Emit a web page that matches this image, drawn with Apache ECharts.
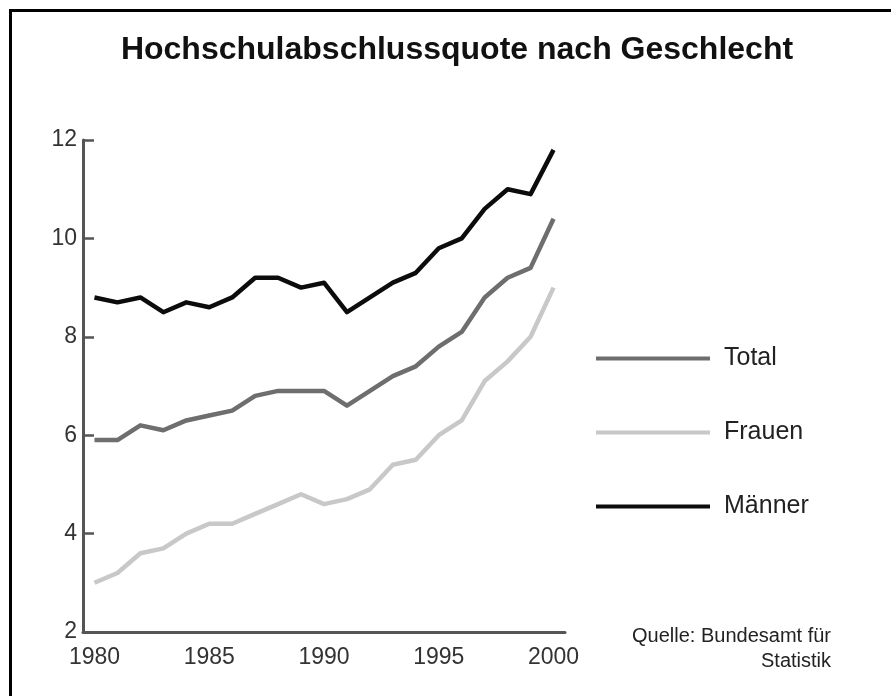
<!DOCTYPE html>
<html>
<head>
<meta charset="utf-8">
<title>Hochschulabschlussquote nach Geschlecht</title>
<script src="https://cdn.jsdelivr.net/npm/echarts@6/dist/echarts.min.js"></script>
<style>
	html, body { margin: 0; padding: 0; background: #fff; }
	#main { width: 891px; height: 696px; }
</style>
</head>
<body>
<div id="main"></div>
<script>
// Jahre (Kategorien)
var years = ['1980','1981','1982','1983','1984','1985','1986','1987','1988','1989','1990',
	'1991','1992','1993','1994','1995','1996','1997','1998','1999','2000'];
// Quoten in %
var total  = [5.9, 5.9, 6.2, 6.1, 6.3, 6.4, 6.5, 6.8, 6.9, 6.9, 6.9, 6.6, 6.9, 7.2, 7.4, 7.8, 8.1, 8.8, 9.2, 9.4, 10.4];
var frauen = [3.0, 3.2, 3.6, 3.7, 4.0, 4.2, 4.2, 4.4, 4.6, 4.8, 4.6, 4.7, 4.9, 5.4, 5.5, 6.0, 6.3, 7.1, 7.5, 8.0, 9.0];
var maenner = [8.8, 8.7, 8.8, 8.5, 8.7, 8.6, 8.8, 9.2, 9.2, 9.0, 9.1, 8.5, 8.8, 9.1, 9.3, 9.8, 10.0, 10.6, 11.0, 10.9, 11.8];
var seriesNames = ['Total', 'Frauen', 'Männer'];
var yTicks = { min: 2, max: 12, step: 2 };

var font = '"Liberation Sans", Arial, Helvetica, sans-serif';
var axisColor = '#555';

var chart = echarts.init(document.getElementById('main'), null, { renderer: 'canvas' });

function lineSeries(name, data, color){
	return {
		name: name,
		type: 'line',
		data: data,
		symbol: 'none',
		smooth: false,
		lineStyle: { color: color, width: 4.5, join: 'round' },
		itemStyle: { color: color }
	};
}

chart.setOption({
	backgroundColor: '#fff',
	animation: false,
	textStyle: { fontFamily: font },
	title: {
		text: 'Hochschulabschlussquote nach Geschlecht',
		left: 452,
		textAlign: 'center',
		top: 29,
		textStyle: { fontFamily: font, fontSize: 32, fontWeight: 'bold', color: '#111' }
	},
	legend: {
		orient: 'vertical',
		left: 591,
		top: 341,
		itemWidth: 114,
		itemHeight: 4,
		itemGap: 49,
		icon: 'rect',
		data: seriesNames,
		textStyle: { fontFamily: font, fontSize: 25, color: '#222', padding: [0, 0, 0, 9] }
	},
	grid: { left: 83, right: 326, top: 140, bottom: 64, containLabel: false },
	xAxis: {
		type: 'category',
		data: years,
		boundaryGap: true,
		axisLine: { lineStyle: { color: axisColor, width: 3 } },
		axisTick: { inside: true, length: 11, interval: 0, lineStyle: { color: axisColor, width: 2.5 } },
		axisLabel: { interval: 4, margin: 14, fontSize: 23, color: '#333', fontFamily: font },
		splitLine: { show: false }
	},
	yAxis: {
		type: 'value',
		min: yTicks.min,
		max: yTicks.max,
		interval: yTicks.step,
		axisLine: { show: true, lineStyle: { color: axisColor, width: 3 } },
		axisTick: { show: true, inside: true, length: 11, lineStyle: { color: axisColor, width: 2.5 } },
		axisLabel: { margin: 6, fontSize: 23, color: '#333', fontFamily: font },
		splitLine: { show: false }
	},
	series: [
		lineSeries(seriesNames[0], total, '#6e6e6e'),
		lineSeries(seriesNames[1], frauen, '#c8c8c8'),
		lineSeries(seriesNames[2], maenner, '#0c0c0c')
	],
	graphic: [
		{
			// Rahmen oben/links
			type: 'rect',
			shape: { x: 10.5, y: 10.5, width: 1000, height: 1000 },
			style: { fill: 'none', stroke: '#000', lineWidth: 3 },
			silent: true
		},
		{
			type: 'text',
			right: 891 - 831,
			top: 624,
			style: {
				text: 'Quelle: Bundesamt für\nStatistik',
				textAlign: 'right',
				font: '20px ' + font,
				fill: '#222',
				lineHeight: 25
			}
		}
	]
});
</script>
</body>
</html>
